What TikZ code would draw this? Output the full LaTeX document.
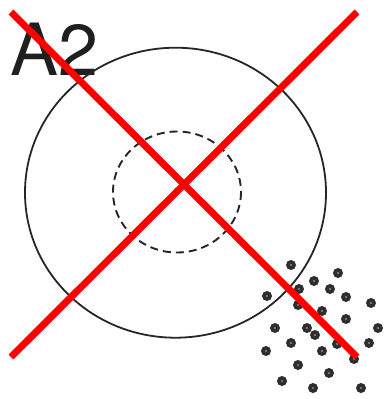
\documentclass[tikz,border=0pt]{standalone}
\usepackage{fontspec}
\setsansfont{TeX Gyre Heros}
\usetikzlibrary{shapes.geometric}
\begin{document}
\begin{tikzpicture}[x=1pt,y=-1pt,
  outline/.style={draw=black!85,line width=1.8pt},
  dashring/.style={draw=black!85,line width=1.9pt,dash pattern=on 8pt off 5pt},
  speck/.style={fill=black!82},
  cross/.style={draw=red,line width=7pt}]
\useasboundingbox (0,0) rectangle (385,399);
\fill[white] (0,0) rectangle (385,399);
\node[font=\sffamily\fontsize{72}{72}\selectfont,text=black!88,anchor=base west,inner sep=0pt] (lbl) at (10,75) {A2};
\draw[outline] (175.5,192.7) ellipse [x radius=150.5,y radius=145];
\draw[dashring] (177,192) ellipse [x radius=64,y radius=60.5];
\fill[black!80] (176,190) circle (2);
\foreach \p in {(291,265),(338,273),(314,281),(299,289),(330,289),(267,296),(346,297),(371,303),(298,305),(322,311),(346,319),(275,328),(307,328),(378,328),(315,335),(291,343),(337,344),(369,343),(266,351),(322,351),(354,359),(298,365),(329,373),(282,381),(313,388),(361,388)}{
  \fill[speck] \p circle (5);
  \fill[black!45] \p circle (1.2);
}
\coordinate (tl) at (11,12);
\coordinate (br) at (357,357);
\coordinate (tr) at (357,12);
\coordinate (bl) at (11,357);
\draw[cross] (tl) -- (br);
\draw[cross] (tr) -- (bl);
\end{tikzpicture}
\end{document}
